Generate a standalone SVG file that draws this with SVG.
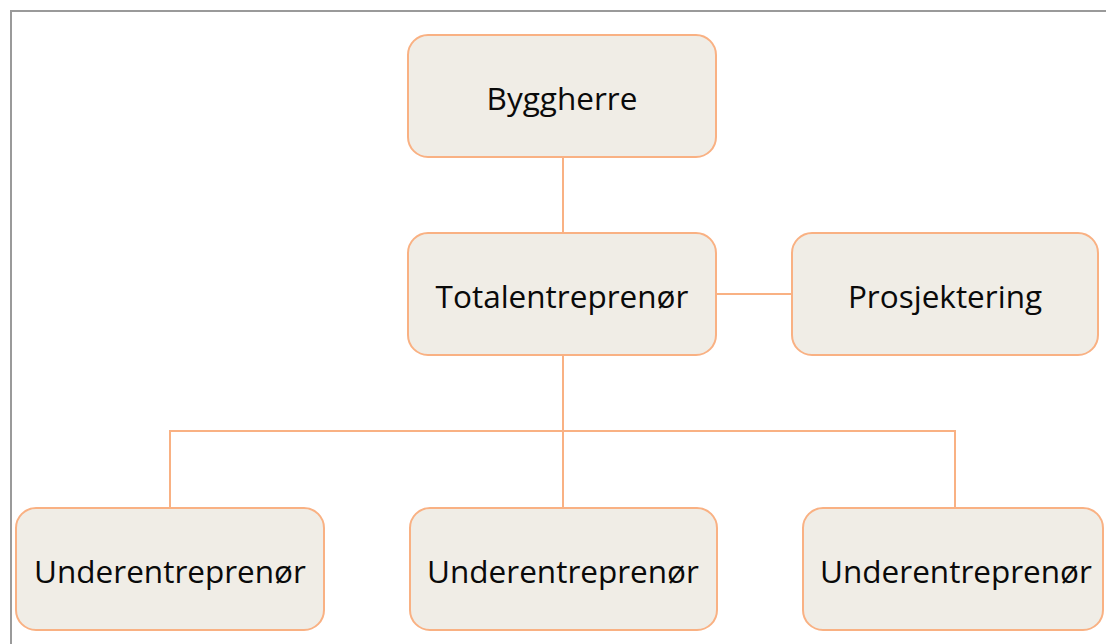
<svg xmlns="http://www.w3.org/2000/svg" width="1106" height="644" viewBox="0 0 1106 644">
  <style>
    .box { fill: #F0EDE6; stroke: #F9B183; stroke-width: 2; }
    .label { font-family: "Open Sans", "Liberation Sans", sans-serif; font-size: 31.5px; font-weight: 500; fill: #0A0A0A; text-anchor: middle; }
    .link { fill: none; stroke: #F9B183; stroke-width: 2; }
  </style>
  <rect width="1106" height="644" fill="#FFFFFF"/>
  <!-- outer frame, open to the right and bottom -->
  <path d="M 11 644 L 11 11 L 1106 11" fill="none" stroke="#9A9A9A" stroke-width="2"/>

  <g id="connectors">
    <line class="link" x1="563" y1="157" x2="563" y2="233"/>
    <line class="link" x1="716" y1="294" x2="792" y2="294"/>
    <line class="link" x1="563" y1="355" x2="563" y2="508"/>
    <polyline class="link" points="170,508 170,431 955,431 955,508"/>
  </g>

  <g id="byggherre">
    <rect class="box" x="408" y="35" width="308" height="122" rx="20"/>
    <text class="label" x="562" y="110">Byggherre</text>
  </g>
  <g id="totalentreprenor">
    <rect class="box" x="408" y="233" width="308" height="122" rx="20"/>
    <text class="label" x="562" y="308">Totalentreprenør</text>
  </g>
  <g id="prosjektering">
    <rect class="box" x="792" y="233" width="306" height="122" rx="20"/>
    <text class="label" x="945" y="308">Prosjektering</text>
  </g>
  <g id="underentreprenor-1">
    <rect class="box" x="16" y="508" width="308" height="122" rx="20"/>
    <text class="label" x="170" y="583">Underentreprenør</text>
  </g>
  <g id="underentreprenor-2">
    <rect class="box" x="410" y="508" width="307" height="122" rx="20"/>
    <text class="label" x="563" y="583">Underentreprenør</text>
  </g>
  <g id="underentreprenor-3">
    <rect class="box" x="803" y="508" width="300" height="122" rx="20"/>
    <text class="label" x="956" y="583">Underentreprenør</text>
  </g>
</svg>
